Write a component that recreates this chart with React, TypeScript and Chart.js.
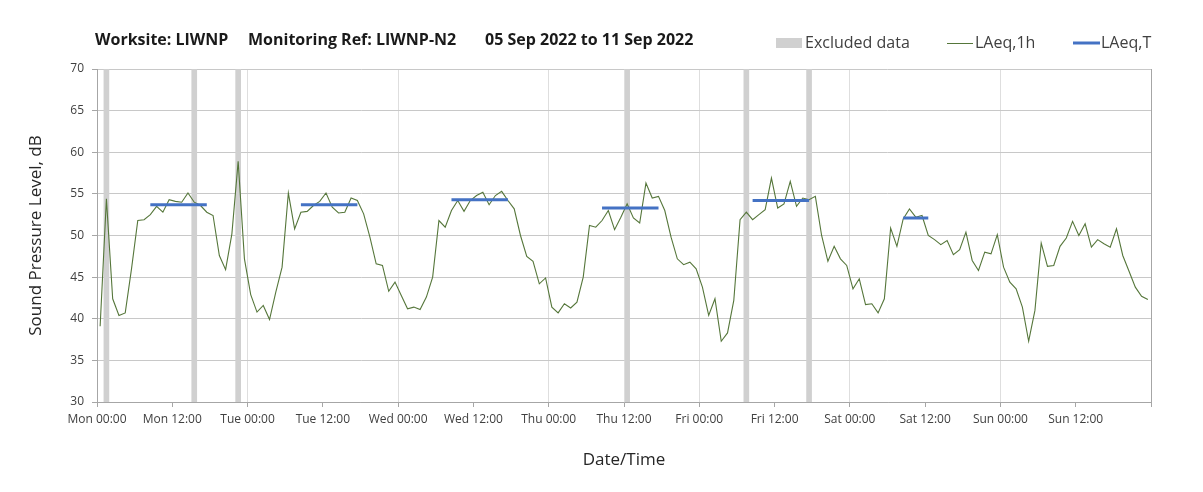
import React, { useEffect, useRef } from "react";
import { Chart, registerables } from "chart.js";

Chart.register(...registerables);

// ---------- data ----------
const TITLE_PARTS = ["Worksite: LIWNP", "Monitoring Ref: LIWNP-N2", "05 Sep 2022 to 11 Sep 2022"];

const X_TICK_LABELS = [
  "Mon 00:00", "Mon 12:00", "Tue 00:00", "Tue 12:00", "Wed 00:00", "Wed 12:00",
  "Thu 00:00", "Thu 12:00", "Fri 00:00", "Fri 12:00", "Sat 00:00", "Sat 12:00",
  "Sun 00:00", "Sun 12:00",
];

// hourly LAeq,1h values, Mon 00:00 .. Sun 23:00
const LAEQ_1H = [
  39.1, 54.4, 42.4, 40.4, 40.7, 46.0, 51.8, 51.9, 52.5, 53.5, 52.8, 54.3,
  54.1, 54.0, 55.1, 54.0, 53.6, 52.8, 52.4, 47.6, 45.9, 50.2, 58.9, 47.2,
  42.9, 40.8, 41.6, 39.9, 43.2, 46.2, 55.1, 50.8, 52.8, 52.9, 53.6, 54.1,
  55.1, 53.4, 52.7, 52.8, 54.5, 54.2, 52.6, 49.8, 46.6, 46.4, 43.3, 44.4,
  42.8, 41.2, 41.4, 41.1, 42.6, 45.0, 51.8, 51.0, 53.0, 54.2, 52.9, 54.2,
  54.8, 55.2, 53.7, 54.8, 55.3, 54.2, 53.2, 50.0, 47.5, 46.9, 44.2, 44.9,
  41.4, 40.7, 41.8, 41.3, 42.0, 45.0, 51.2, 51.0, 51.8, 53.0, 50.7, 52.2,
  53.8, 52.1, 51.5, 56.3, 54.5, 54.7, 53.0, 49.8, 47.2, 46.5, 46.8, 46.0,
  43.8, 40.4, 42.4, 37.3, 38.3, 42.2, 51.9, 52.8, 51.9, 52.5, 53.1, 56.9,
  53.3, 53.8, 56.5, 53.5, 54.5, 54.3, 54.7, 50.0, 46.9, 48.7, 47.2, 46.4,
  43.6, 44.8, 41.7, 41.8, 40.7, 42.4, 50.9, 48.7, 52.0, 53.2, 52.2, 52.4,
  50.0, 49.5, 48.9, 49.4, 47.7, 48.3, 50.4, 47.0, 45.8, 48.0, 47.8, 50.1,
  46.2, 44.4, 43.6, 41.4, 37.3, 41.0, 49.1, 46.3, 46.4, 48.7, 49.7, 51.7,
  50.0, 51.4, 48.6, 49.5, 49.0, 48.6, 50.8, 47.6, 45.7, 43.8, 42.7, 42.3,
];

// hours (from Mon 00:00) flagged as excluded
const EXCLUDED_HOURS = [1, 15, 22, 84, 103, 113];

// LAeq,T periods (first and last hour covered) and levels
const LAEQ_T_START = [8, 32, 56, 80, 104, 128];
const LAEQ_T_END = [17, 41, 65, 89, 113, 132];
const LAEQ_T_VALUE = [53.7, 53.7, 54.3, 53.3, 54.2, 52.1];

const Y_MIN = 30;
const Y_MAX = 70;
const Y_STEP = 5;
const HOURS_TOTAL = 168;
const X_STEP = 12;

// ---------- styling ----------
const FONT = "'Open Sans', Lato, sans-serif";
const GREEN = "#55763a";
const BLUE = "#4472c4";
const GREY_BAR = "#d0d0d0";

const headerPlugin = {
  id: "header",
  afterDraw(chart: any) {
    const ctx = chart.ctx;
    ctx.save();
    ctx.textBaseline = "middle";
    ctx.textAlign = "left";
    ctx.font = `bold 16px ${FONT}`;
    ctx.fillStyle = "#1a1a1a";
    const titleX = [95, 248, 485];
    TITLE_PARTS.forEach((t, i) => ctx.fillText(t, titleX[i], 40));

    const ly = 43;
    ctx.font = `16px ${FONT}`;
    // Excluded data
    ctx.fillStyle = GREY_BAR;
    ctx.fillRect(776, ly - 5, 26, 10);
    ctx.fillStyle = "#404040";
    ctx.fillText("Excluded data", 805, ly);
    // LAeq,1h
    ctx.strokeStyle = GREEN;
    ctx.lineWidth = 1;
    ctx.beginPath();
    ctx.moveTo(947, ly + 0.5);
    ctx.lineTo(973, ly + 0.5);
    ctx.stroke();
    ctx.fillText("LAeq,1h", 975, ly);
    // LAeq,T
    ctx.strokeStyle = BLUE;
    ctx.lineWidth = 3;
    ctx.beginPath();
    ctx.moveTo(1073, ly);
    ctx.lineTo(1100, ly);
    ctx.stroke();
    ctx.fillText("LAeq,T", 1101, ly);
    ctx.restore();
  },
};

export default function App() {
  const ref = useRef<HTMLCanvasElement | null>(null);

  useEffect(() => {
    if (!ref.current) return;

    const lineData = LAEQ_1H.map((v, i) => ({ x: i + 0.5, y: v }));
    const barData = EXCLUDED_HOURS.map((h) => ({ x: h + 0.5, y: [Y_MIN, Y_MAX] }));
    const tData: any[] = [];
    LAEQ_T_VALUE.forEach((v, i) => {
      if (i > 0) tData.push({ x: LAEQ_T_START[i] - 0.5, y: null });
      tData.push({ x: LAEQ_T_START[i] + 0.5, y: v });
      tData.push({ x: LAEQ_T_END[i] + 0.5, y: v });
    });

    const chart = new Chart(ref.current, {
      type: "line",
      data: {
        datasets: [
          {
            type: "bar",
            label: "Excluded data",
            data: barData as any,
            backgroundColor: GREY_BAR,
            borderWidth: 0,
            barThickness: 5,
            order: 3,
          } as any,
          {
            label: "LAeq,1h",
            data: lineData,
            borderColor: GREEN,
            borderWidth: 1.1,
            pointRadius: 0,
            tension: 0,
            order: 2,
          },
          {
            label: "LAeq,T",
            data: tData,
            borderColor: BLUE,
            borderWidth: 3,
            borderCapStyle: "butt",
            pointRadius: 0,
            spanGaps: false,
            order: 1,
          },
        ],
      },
      options: {
        responsive: false,
        animation: false,
        devicePixelRatio: 1,
        layout: { padding: { left: 0, right: 52, top: 69, bottom: 10 } },
        plugins: {
          legend: { display: false },
          title: { display: false },
          tooltip: { enabled: false },
        },
        scales: {
          x: {
            type: "linear",
            min: 0,
            max: HOURS_TOTAL,
            offset: false,
            afterFit: (s: any) => {
              s.height = 80;
            },
            ticks: {
              stepSize: X_STEP,
              autoSkip: false,
              maxRotation: 0,
              padding: 5,
              color: "#404040",
              font: { family: FONT, size: 12 },
              callback: (value: any) => {
                const idx = Math.round(Number(value) / X_STEP);
                return X_TICK_LABELS[idx] ?? "";
              },
            },
            grid: {
              offset: false,
              color: (c: any) => {
                const v = c.tick ? c.tick.value : -1;
                if (v === HOURS_TOTAL) return "#a6a6a6";
                return v % 24 === 0 ? "#dedede" : "rgba(0,0,0,0)";
              },
              tickColor: "#a6a6a6",
              tickLength: 5,
              lineWidth: 1,
            },
            border: { color: "#a6a6a6" },
            title: {
              display: true,
              text: "Date/Time",
              color: "#262626",
              font: { family: FONT, size: 17 },
              padding: { top: 0, bottom: 12 },
            },
          },
          y: {
            min: Y_MIN,
            max: Y_MAX,
            afterFit: (s: any) => {
              s.width = 97;
            },
            ticks: {
              stepSize: Y_STEP,
              padding: 8,
              color: "#404040",
              font: { family: FONT, size: 12 },
            },
            grid: {
              color: "#c8c8c8",
              tickColor: "#a6a6a6",
              tickLength: 5,
            },
            border: { color: "#a6a6a6" },
            title: {
              display: true,
              text: "Sound Pressure Level, dB",
              color: "#262626",
              font: { family: FONT, size: 17 },
              padding: { top: 26, bottom: 0 },
            },
          },
        },
      },
      plugins: [headerPlugin],
    });

    return () => chart.destroy();
  }, []);

  return (
    <div style={{ position: "fixed", left: 0, top: 0, width: 1203, height: 492, background: "#fff" }}>
      <canvas ref={ref} width={1203} height={492} />
    </div>
  );
}
